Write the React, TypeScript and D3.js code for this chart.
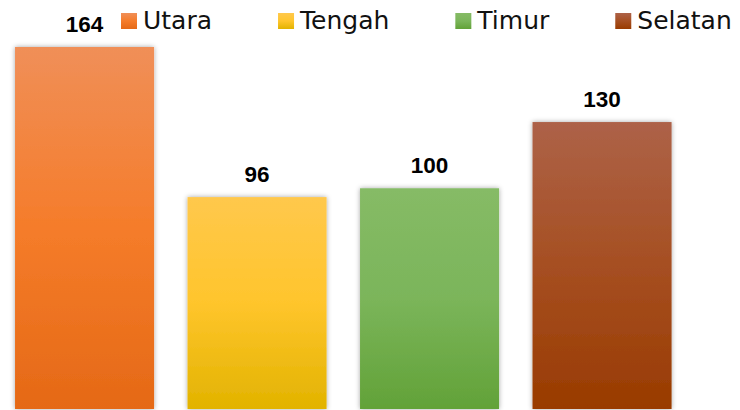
import React, { useRef, useEffect } from 'react';
import * as d3 from 'd3';

const categories = ['Utara', 'Tengah', 'Timur', 'Selatan'];
const values = [164, 96, 100, 130];
// light top, mid, dark bottom for each bar
const topColors = ['#F08F58', '#FFC84C', '#86BB66', '#AD6248'];
const midColors = ['#F57C2A', '#FFC52C', '#7BB55A', '#A64F22'];
const bottomColors = ['#E56916', '#E2B300', '#62A238', '#993B00'];

export default function App() {
  const svgRef = useRef<SVGSVGElement>(null);
  const width = 740;
  const height = 410;
  const margin = { top: 47, bottom: 1, left: -1.7, right: 51.7 };

  useEffect(() => {
    const svg = d3.select(svgRef.current);
    svg.selectAll('*').remove();

    const x = d3.scaleBand<string>()
      .domain(categories)
      .range([margin.left, width - margin.right])
      .paddingInner(0.194)
      .paddingOuter(0.097);

    const y = d3.scaleLinear()
      .domain([0, 164])
      .range([height - margin.bottom, margin.top]);

    const defs = svg.append('defs');
    categories.forEach((c, i) => {
      const g = defs.append('linearGradient')
        .attr('id', 'grad' + i)
        .attr('x1', 0).attr('y1', 0).attr('x2', 0).attr('y2', 1);
      g.append('stop').attr('offset', '0%').attr('stop-color', topColors[i]);
      g.append('stop').attr('offset', '50%').attr('stop-color', midColors[i]);
      g.append('stop').attr('offset', '100%').attr('stop-color', bottomColors[i]);
    });
    const f = defs.append('filter').attr('id', 'shadow')
      .attr('x', '-10%').attr('y', '-10%').attr('width', '120%').attr('height', '120%');
    f.append('feDropShadow')
      .attr('dx', 0).attr('dy', 0).attr('stdDeviation', 2.5)
      .attr('flood-color', '#000').attr('flood-opacity', 0.35);

    svg.append('g')
      .selectAll('rect')
      .data(values)
      .join('rect')
      .attr('x', (d, i) => x(categories[i]) as number)
      .attr('y', d => y(d))
      .attr('width', x.bandwidth())
      .attr('height', d => y(0) - y(d))
      .attr('fill', (d, i) => `url(#grad${i})`)
      .attr('filter', 'url(#shadow)');

    svg.append('g')
      .selectAll('text')
      .data(values)
      .join('text')
      .attr('x', (d, i) => (x(categories[i]) as number) + x.bandwidth() / 2)
      .attr('y', d => y(d) - 15)
      .attr('text-anchor', 'middle')
      .attr('font-family', '"Liberation Sans", Arial, sans-serif')
      .attr('font-weight', 'bold')
      .attr('font-size', '22.5px')
      .attr('fill', '#000')
      .text(d => d);

    // legend, laid out by measured text widths
    const legend = svg.append('g').attr('class', 'legend');
    let lx = 121;
    categories.forEach((c, i) => {
      const item = legend.append('g').attr('transform', `translate(${lx},0)`);
      item.append('rect')
        .attr('x', 0).attr('y', 13)
        .attr('width', 16).attr('height', 16)
        .attr('fill', `url(#grad${i})`);
      const t = item.append('text')
        .attr('x', 22).attr('y', 29)
        .attr('font-family', '"DejaVu Sans", sans-serif')
        .attr('font-size', '25px')
        .attr('fill', '#111')
        .text(c);
      const w = (t.node() as SVGTextElement).getComputedTextLength();
      lx += 22 + w + 66;
    });
  }, []);

  return (
    <div>
      <svg ref={svgRef} width={width} height={height}
        style={{ position: 'absolute', left: 0, top: 0, background: '#fff' }} />
    </div>
  );
}
